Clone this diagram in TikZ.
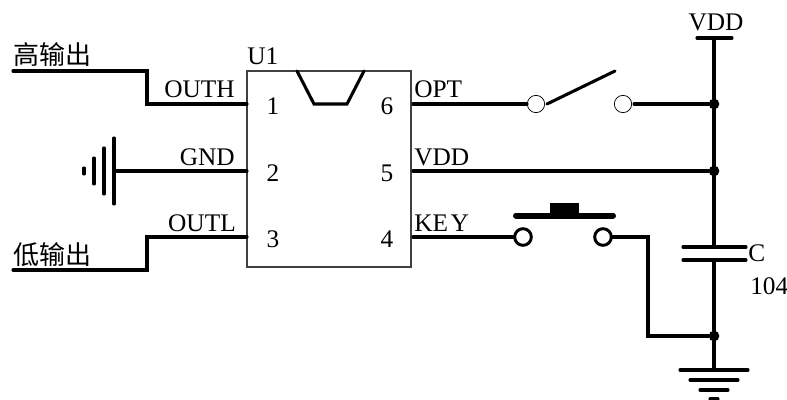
\documentclass[tikz,border=0pt]{standalone}
\usepackage{fontspec}
\setmainfont{Liberation Serif}
\newfontfamily\cjk{Noto Sans CJK SC}
\usetikzlibrary{positioning}
\tikzset{
    wire/.style={line width=2.3pt,line cap=round,line join=miter},
    chip/.style={draw=black!75,line width=0.8pt,minimum width=123pt,minimum height=147pt,inner sep=0pt},
    junction/.style={circle,fill=black,inner sep=0pt,minimum size=8pt},
    openpad/.style={circle,draw=black,line width=0.55pt,fill=white,inner sep=0pt,minimum size=13pt},
    keypad/.style={circle,draw=black,line width=2.2pt,fill=white,inner sep=0pt,minimum size=12.5pt},
    lbl/.style={inner sep=0pt,font=\fontsize{19}{21}\selectfont},
    cnlbl/.style={inner sep=0pt,font=\fontsize{19.5}{22}\selectfont\cjk}
}
\begin{document}
\begin{tikzpicture}[x=0.75pt,y=-0.75pt]
  % Canvas
    \useasboundingbox (0,0) rectangle (787,399);

  % The chip
    \node[chip] (u1) at (329,169) {};
    \node[lbl,anchor=base west] (u1name) at (247,65) {U1};
    \draw[wire] (297,71) -- (314,104) -- (347,104) -- (364,71);

  % Pins, numbers and names
    \foreach \n/\y in {1/114,2/181,3/247}
      \node[lbl,anchor=base] (pin\n) at (273,\y) {\n};
    \foreach \n/\y in {6/114,5/181,4/247}
      \node[lbl,anchor=base] (pin\n) at (387,\y) {\n};

    \node[lbl,anchor=base east] (outh) at (235,98) {OUTH};
    \node[lbl,anchor=base east] (gnd) at (235,165) {GND};
    \node[lbl,anchor=base east] (outl) at (236,231) {OUTL};
    \node[lbl,anchor=base west] (opt) at (414,98) {OPT};
    \node[lbl,anchor=base west] (vddpin) at (414,165) {VDD};
    \node[lbl,anchor=base west] (key) at (414,231) {KE\kern2pt Y};

  % Named points
    \coordinate (a1) at (247,104);
    \coordinate (a2) at (247,171);
    \coordinate (a3) at (247,237);
    \coordinate (a4) at (413,237);
    \coordinate (a5) at (413,171);
    \coordinate (a6) at (413,104);
    \coordinate (hi) at (13,71);
    \coordinate (lo) at (13,270);
    \coordinate (hibend) at (147,71);
    \coordinate (lobend) at (147,270);
    \coordinate (gndleft) at (114,171);
    \coordinate (vddtop) at (714,38);
    \coordinate (captop) at (714,247);
    \coordinate (capbot) at (714,260);
    \coordinate (gndtop) at (714,370);
    \coordinate (lever) at (547,104);
    \coordinate (levertip) at (615,71);
    \coordinate (keybend) at (648,237);

  % Left side
    \node[cnlbl,anchor=base west] (hilabel) at (13,65) {高输出};
    \node[cnlbl,anchor=base west] (lolabel) at (13,264) {低输出};
    \draw[wire] (hi) -- (hibend) |- (a1);
    \draw[wire] (lo) -- (lobend) |- (a3);
    \draw[wire] (gndleft) -- (a2);
    \foreach \x/\h in {114/33,104/23,94/13,84/3}
      \draw[wire] (\x,171-\h) -- (\x,171+\h);

  % Supply rail
    \node[junction] (j1) at (714,104) {};
    \node[junction] (j2) at (714,171) {};
    \node[junction] (j3) at (714,336) {};
    \node[lbl,anchor=base] (vddname) at (716,31) {VDD};
    \draw[wire] (697,38) -- (732,38);
    \draw[wire] (vddtop) -- (captop);
    \draw[wire] (capbot) -- (gndtop);
    \draw[wire] (683,247) -- (746,247);
    \draw[wire] (683,260) -- (746,260);
    \node[lbl,anchor=base west] (cname) at (748,261) {C};
    \node[lbl,anchor=base west] (cvalue) at (750,294) {104};
    \foreach \y/\h in {370/34,380/24,390/14,399/4}
      \draw[wire] (714-\h,\y) -- (714+\h,\y);

  % Toggle switch
    \node[openpad] (s1) at (536,104) {};
    \node[openpad] (s2) at (623,104) {};
    \draw[wire] (a6) -- (s1);
    \draw[wire] (lever) -- (levertip);
    \draw[wire,shorten <=1.5pt] (s2) -- (j1);
    \draw[wire] (a5) -- (j2);

  % Push button
    \node[keypad] (k1) at (523,237) {};
    \node[keypad] (k2) at (603,237) {};
    \draw[wire] (a4) -- (k1);
    \draw[wire] (k2) -- (keybend) |- (j3);
    \draw[line width=4.5pt,line cap=round] (516,215.5) -- (613,215.5);
    \fill (550,203) rectangle (579,215);
\end{tikzpicture}
\end{document}
